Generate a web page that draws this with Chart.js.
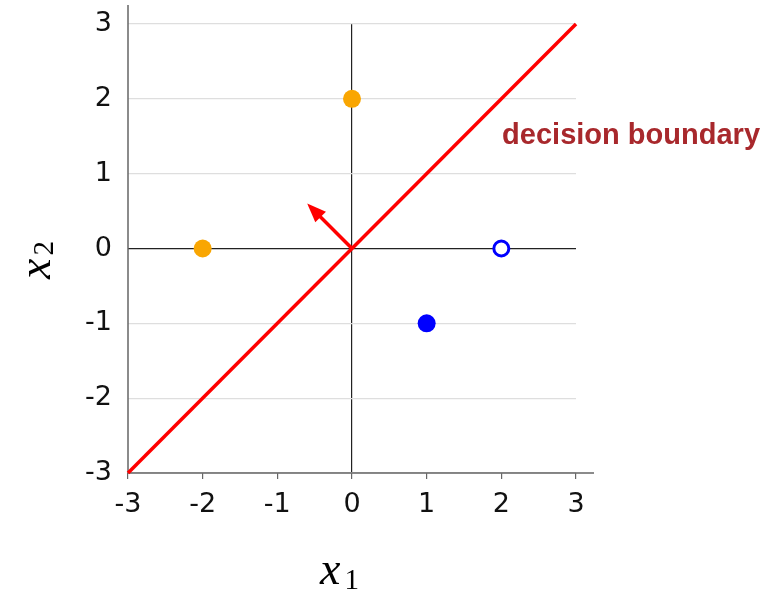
<!DOCTYPE html>
<html><head><meta charset="utf-8">
<script src="https://cdn.jsdelivr.net/npm/chart.js@4/dist/chart.umd.min.js"></script>
<style>html,body{margin:0;padding:0;background:#fff;}#wrap{width:784px;height:591px;}</style>
</head><body><div id="wrap"><canvas id="c" width="784" height="591"></canvas></div>
<script>
// ---- data ----
const xTicks = [-3, -2, -1, 0, 1, 2, 3];
const yTicks = [-3, -2, -1, 0, 1, 2, 3];
const orangeX = [0, -2];
const orangeY = [2, 0];
const blueX = [1];
const blueY = [-1];
const hollowX = [2];
const hollowY = [0];
const boundaryX = [-3, 3];
const boundaryY = [-3, 3];
const normalX = [0, -0.6];
const normalY = [0, 0.6];
const boundaryLabel = 'decision boundary';
const labelAnchor = [2.01, 1.39];
const xTitle = ['x', '1'];
const yTitle = ['x', '2'];

const zip = (xs, ys) => xs.map((x, i) => ({x, y: ys[i]}));

const decor = {
  id: 'decor',
  beforeDatasetsDraw(chart) {
    const {ctx, chartArea: a} = chart;
    ctx.save();
    ctx.strokeStyle = '#666';
    ctx.lineWidth = 1.5;
    ctx.beginPath();
    ctx.moveTo(a.left, 5); ctx.lineTo(a.left, a.bottom);
    ctx.moveTo(a.left, a.bottom); ctx.lineTo(a.right + 18, a.bottom);
    ctx.stroke();
    ctx.restore();
  },
  afterDatasetsDraw(chart) {
    const {ctx, chartArea: a, scales: {x, y}} = chart;
    ctx.save();
    // normal arrow
    const x0 = x.getPixelForValue(normalX[0]), y0 = y.getPixelForValue(normalY[0]);
    const x1 = x.getPixelForValue(normalX[1]), y1 = y.getPixelForValue(normalY[1]);
    const ang = Math.atan2(y1 - y0, x1 - x0);
    const hl = 19, hw = 7.5;
    const bx = x1 - hl * Math.cos(ang), by = y1 - hl * Math.sin(ang);
    ctx.strokeStyle = '#ff0000'; ctx.fillStyle = '#ff0000';
    ctx.lineWidth = 3.5;
    ctx.beginPath(); ctx.moveTo(x0, y0); ctx.lineTo(bx + 4 * Math.cos(ang), by + 4 * Math.sin(ang)); ctx.stroke();
    ctx.beginPath();
    ctx.moveTo(x1, y1);
    ctx.lineTo(bx + hw * Math.sin(ang), by - hw * Math.cos(ang));
    ctx.lineTo(bx - hw * Math.sin(ang), by + hw * Math.cos(ang));
    ctx.closePath(); ctx.fill();

    // boundary label
    ctx.fillStyle = '#a8282c';
    let fs = 24;
    ctx.font = `bold ${fs}px "Liberation Sans"`;
    const w = ctx.measureText(boundaryLabel).width;
    fs = fs * 258 / w;
    ctx.font = `bold ${fs}px "Liberation Sans"`;
    ctx.textBaseline = 'alphabetic'; ctx.textAlign = 'left';
    ctx.fillText(boundaryLabel, x.getPixelForValue(labelAnchor[0]), y.getPixelForValue(labelAnchor[1]));

    // axis titles
    ctx.fillStyle = '#000';
    ctx.font = 'italic 46px "Liberation Serif"';
    ctx.fillText(xTitle[0], 320, 584);
    const xw = ctx.measureText(xTitle[0]).width;
    ctx.font = '29px "Liberation Serif"';
    ctx.fillText(xTitle[1], 320 + xw + 4, 589);

    ctx.translate(50, 279);
    ctx.rotate(-Math.PI / 2);
    ctx.font = 'italic 46px "Liberation Serif"';
    ctx.fillText(yTitle[0], 0, 0);
    ctx.font = '29px "Liberation Serif"';
    ctx.fillText(yTitle[1], xw + 3, 3);
    ctx.restore();
  }
};

new Chart(document.getElementById('c'), {
  type: 'scatter',
  data: {
    datasets: [
      {data: zip(boundaryX, boundaryY), showLine: true, borderColor: '#ff0000', borderWidth: 3.5,
       pointRadius: 0, clip: false, order: 3},
      {data: zip(orangeX, orangeY), backgroundColor: '#f9a602', borderWidth: 0, pointRadius: 9, clip: false, order: 1},
      {data: zip(blueX, blueY), backgroundColor: '#0000ff', borderWidth: 0, pointRadius: 9, clip: false, order: 1},
      {data: zip(hollowX, hollowY), backgroundColor: '#ffffff', borderColor: '#0000ff', borderWidth: 3,
       pointRadius: 7.5, clip: false, order: 1}
    ]
  },
  options: {
    responsive: false, animation: false, devicePixelRatio: 1,
    layout: {padding: {left: 0, right: 208, top: 24, bottom: 0}},
    plugins: {legend: {display: false}, tooltip: {enabled: false}},
    scales: {
      x: {
        type: 'linear', min: -3, max: 3,
        afterBuildTicks: s => { s.ticks = xTicks.map(v => ({value: v})); },
        afterFit: s => { s.height = 118; s.paddingLeft = 0; s.paddingRight = 0; },
        border: {display: false},
        grid: {
          color: c => (c.tick && c.tick.value === 0) ? '#222' : 'rgba(0,0,0,0)',
          tickColor: '#666', tickLength: 6, lineWidth: 1.2
        },
        ticks: {color: '#111', font: {family: '"DejaVu Sans"', size: 27}, padding: 10, maxRotation: 0}
      },
      y: {
        type: 'linear', min: -3, max: 3,
        afterBuildTicks: s => { s.ticks = yTicks.map(v => ({value: v})); },
        afterFit: s => { s.width = 128; s.paddingTop = 0; s.paddingBottom = 0; },
        border: {display: false},
        grid: {
          color: c => (c.tick && c.tick.value === 0) ? '#222' : '#dedede',
          drawTicks: false, lineWidth: 1.2
        },
        ticks: {color: '#111', font: {family: '"DejaVu Sans"', size: 27}, padding: 16}
      }
    }
  },
  plugins: [decor]
});
</script></body></html>
